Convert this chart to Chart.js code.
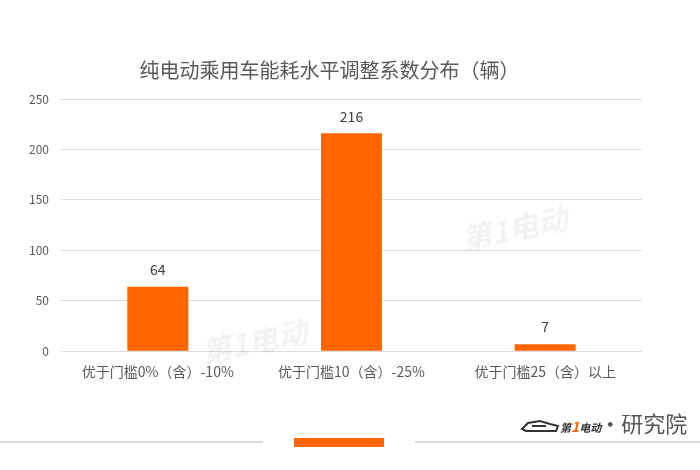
<!DOCTYPE html>
<html>
<head>
<meta charset="utf-8">
<script src="https://cdn.jsdelivr.net/npm/chart.js@4/dist/chart.umd.min.js"></script>
<style>
  body { margin: 0; background: #fff; font-family: "Noto Sans CJK SC", sans-serif; }
  #wrap { position: relative; width: 700px; height: 470px; overflow: hidden; }
  #wrap canvas { position: absolute; left: 0; top: 0; }
  .line { position: absolute; top: 441px; height: 2px; background: #d9d9d9; }
  .mark { position: absolute; left: 294px; top: 438px; width: 90px; height: 9px; background: #ff6600; }
  .logo { position: absolute; left: 520px; top: 408px; font-size: 22px; color: #555; white-space: nowrap; line-height: 28px; }
  .logo svg { vertical-align: -3px; }
  .logo b { font-style: italic; font-size: 11px; color: #333; }
  .logo i { font-style: italic; font-weight: bold; color: #ff6600; font-size: 14px; }
  .logo .dot { margin: 0 0 0 -2px; }
  .wm { position: absolute; color: rgba(0,0,0,0.05); font-size: 30px; font-style: italic; font-weight: bold; transform: rotate(-12deg); white-space: nowrap; }
</style>
</head>
<body>
<div id="wrap">
  <canvas id="chart" width="700" height="470"></canvas>
  <div class="wm" style="left:460px; top:205px;">第1电动</div>
  <div class="wm" style="left:200px; top:318px;">第1电动</div>
  <div class="line" style="left:0; width:263px;"></div>
  <div class="mark"></div>
  <div class="line" style="left:415px; width:285px;"></div>
  <div class="logo"><svg width="40" height="18" viewBox="0 0 40 18"><path d="M2 12 L8 6 L20 4 L30 7 L38 9 L36 14 L6 14 Z" fill="none" stroke="#333" stroke-width="2"/><path d="M12 9 H26" stroke="#333" stroke-width="2"/></svg><b>第</b><i>1</i><b>电动</b><span class="dot">·</span>研究院</div>
</div>
<script>
const categories = ['优于门槛0%（含）-10%', '优于门槛10（含）-25%', '优于门槛25（含）以上'];
const counts = [64, 216, 7];
const yTicks = [0, 50, 100, 150, 200, 250];

// values above each bar
const barLabels = {
    id: 'barLabels',
    afterDatasetsDraw(chart) {
        const ctx = chart.ctx;
        const meta = chart.getDatasetMeta(0);
        ctx.save();
        ctx.font = '14px "Noto Sans CJK SC", sans-serif';
        ctx.fillStyle = '#404040';
        ctx.textAlign = 'center';
        ctx.textBaseline = 'middle';
        meta.data.forEach(function(bar, i) {
            ctx.fillText(counts[i], bar.x, bar.y - 17);
        });
        ctx.restore();
    }
};

const ctx = document.getElementById('chart').getContext('2d');
new Chart(ctx, {
    type: 'bar',
    data: {
        labels: categories,
        datasets: [{
            data: counts,
            backgroundColor: '#ff6600',
            categoryPercentage: 1,
            barPercentage: 0.315
        }]
    },
    options: {
        responsive: false,
        animation: false,
        layout: { padding: { left: 17, right: 58, top: 0, bottom: 86 } },
        plugins: {
            legend: { display: false },
            tooltip: { enabled: false },
            title: {
                display: true,
                text: '纯电动乘用车能耗水平调整系数分布（辆）',
                color: '#595959',
                font: { size: 20, family: '"Noto Sans CJK SC", sans-serif', weight: 'normal' },
                padding: { top: 58, bottom: 17 }
            }
        },
        scales: {
            x: {
                grid: { display: false },
                border: { display: false },
                ticks: {
                    color: '#595959',
                    font: { size: 14, family: '"Noto Sans CJK SC", sans-serif' },
                    padding: 4,
                    maxRotation: 0
                }
            },
            y: {
                min: 0,
                max: 250,
                afterBuildTicks(axis) {
                    axis.ticks = yTicks.map(function(v) { return { value: v }; });
                },
                grid: { color: '#dcdcdc', drawTicks: false },
                border: { display: false },
                ticks: {
                    color: '#595959',
                    font: { size: 12, family: '"Noto Sans CJK SC", sans-serif' },
                    padding: 12
                }
            }
        }
    },
    plugins: [barLabels]
});
</script>
</body>
</html>
